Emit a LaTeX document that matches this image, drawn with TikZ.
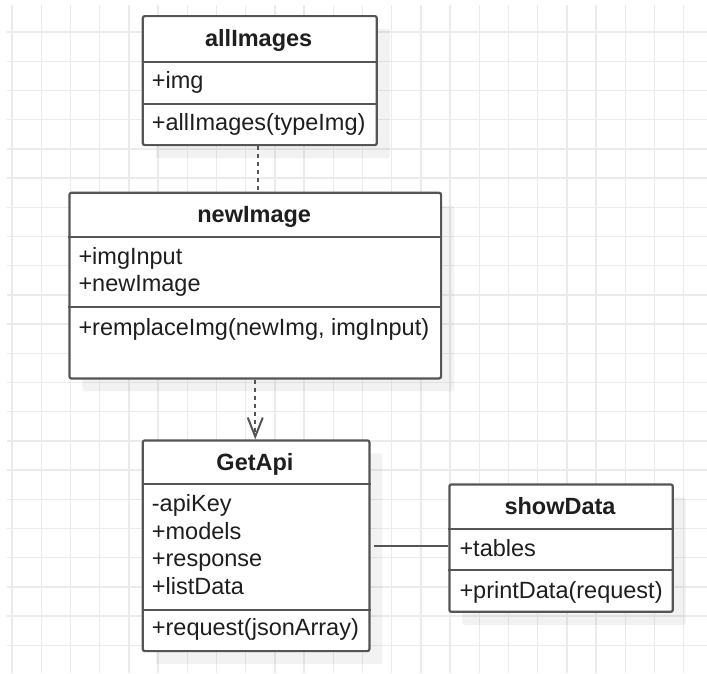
\documentclass[tikz,border=0pt]{standalone}
\usepackage{fontspec}
\setmainfont{Liberation Sans}
\usetikzlibrary{arrows.meta,shadows}
\definecolor{edge}{HTML}{555555}
\definecolor{txt}{HTML}{1E1E1E}
\definecolor{gridc}{HTML}{EBEBEB}
\newcommand{\umlsize}{\fontsize{23.5pt}{27.5pt}\selectfont}
\tikzset{
  cls/.style={draw=edge, line width=2.2pt, fill=white, rounded corners=2pt,
    anchor=north west, inner sep=0pt,
    general shadow={fill=black, opacity=0.05, shadow xshift=13pt, shadow yshift=-13pt}},
  sepline/.style={draw=edge, line width=2.2pt},
  title/.style={anchor=base, inner sep=0pt, text=txt, font=\umlsize\bfseries},
  member/.style={anchor=base west, inner sep=0pt, text=txt, font=\umlsize},
  conn/.style={draw=edge, line width=2pt},
  dep/.style={conn, dash pattern=on 4pt off 4pt},
}
\begin{document}
\begin{tikzpicture}[x=1pt, y=-1pt]
\useasboundingbox (0,0) rectangle (707,673);
\fill[white] (0,0) rectangle (707,673);
% background grid
\foreach \i in {0,...,23}
  \draw[gridc, line width=1.4pt] ({12+29.2*\i},5) -- ({12+29.2*\i},673);
\foreach \j in {0,...,22}
  \draw[gridc, line width=1.4pt] (7,{32+29.2*\j}) -- (707,{32+29.2*\j});

% class allImages
\node[cls, minimum width=234pt, minimum height=129pt] (allImages) at (141.7,15) {};
\draw[sepline] (allImages.west |- 0,61.7) -- (allImages.east |- 0,61.7);
\draw[sepline] (allImages.west |- 0,104) -- (allImages.east |- 0,104);
\node[title] (allImagesT) at (258.7,46.8) {allImages};
\node[member] (allImagesA1) at (151.7,88.5) {+img};
\node[member] (allImagesM1) at (151.7,130.5) {+allImages(typeImg)};

% class newImage
\node[cls, minimum width=371.7pt, minimum height=185.6pt] (newImage) at (68.3,191.7) {};
\draw[sepline] (newImage.west |- 0,236.7) -- (newImage.east |- 0,236.7);
\draw[sepline] (newImage.west |- 0,306.7) -- (newImage.east |- 0,306.7);
\node[title] (newImageT) at (254.2,222.7) {newImage};
\node[member] (newImageA1) at (78.3,264) {+imgInput};
\node[member] (newImageA2) at (78.3,291.5) {+newImage};
\node[member] (newImageM1) at (78.3,335) {+remplaceImg(newImg, imgInput)};

% class GetApi
\node[cls, minimum width=226.6pt, minimum height=210.7pt] (GetApi) at (141.7,439.3) {};
\draw[sepline] (GetApi.west |- 0,484.3) -- (GetApi.east |- 0,484.3);
\draw[sepline] (GetApi.west |- 0,610) -- (GetApi.east |- 0,610);
\node[title] (GetApiT) at (255,470.6) {GetApi};
\node[member] (GetApiA1) at (151.7,511.5) {-apiKey};
\node[member] (GetApiA2) at (151.7,539) {+models};
\node[member] (GetApiA3) at (151.7,566.5) {+response};
\node[member] (GetApiA4) at (151.7,594) {+listData};
\node[member] (GetApiM1) at (151.7,635.5) {+request(jsonArray)};

% class showData
\node[cls, minimum width=223.4pt, minimum height=127.4pt] (showData) at (448.3,483.3) {};
\draw[sepline] (showData.west |- 0,529.3) -- (showData.east |- 0,529.3);
\draw[sepline] (showData.west |- 0,570) -- (showData.east |- 0,570);
\node[title] (showDataT) at (560,514.6) {showData};
\node[member] (showDataA1) at (459.3,556.7) {+tables};
\node[member] (showDataM1) at (459.3,598.5) {+printData(request)};

% relations
\draw[dep] ([xshift=-2pt]allImages.south) -- ([xshift=-2pt]allImages.south |- newImage.north);
\draw[dep, -{Straight Barb[length=19pt, width=15pt, line width=2pt]}]
  (newImage.south) -- (newImage.south |- GetApi.north);
\draw[conn] ([xshift=3.5pt]GetApi.east) -- (GetApi.east -| showData.west);
\end{tikzpicture}
\end{document}
